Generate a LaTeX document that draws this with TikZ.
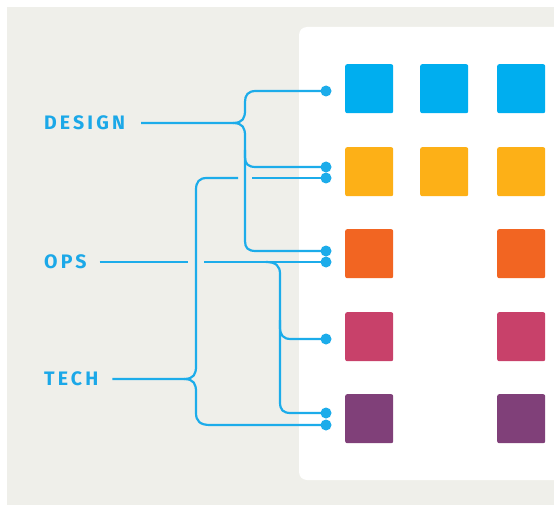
\documentclass[tikz,border=0pt]{standalone}
\usepackage{fontspec}
\setmainfont{Fira Sans}
\newfontfamily\labelfont{Fira Sans}[LetterSpace=16]
\definecolor{bggray}{HTML}{EFEFEA}
\definecolor{wire}{HTML}{1CACEA}
\definecolor{txtblue}{HTML}{1BA8E8}
\definecolor{sqblue}{HTML}{00AEEF}
\definecolor{sqorange}{HTML}{FDB017}
\definecolor{sqred}{HTML}{F26522}
\definecolor{sqpink}{HTML}{C8416A}
\definecolor{sqpurple}{HTML}{804079}
\tikzset{
  tile/.style={fill=#1, rounded corners=2bp, minimum width=48bp, minimum height=49bp,
               inner sep=0pt, anchor=north west},
  pin/.style={circle, fill=wire, minimum size=11bp, inner sep=0pt},
  conn/.style={draw=wire, line width=2.2bp},
  team/.style={anchor=west, inner sep=0pt, text=txtblue,
               font=\labelfont\bfseries\fontsize{19.5bp}{22bp}\selectfont}
}
\begin{document}
\begin{tikzpicture}[x=1bp,y=-1bp]
\useasboundingbox (0,0) rectangle (554,505);
\clip (0,0) rectangle (554,505);
% backdrop and card
\fill[bggray] (7,7) rectangle (560,510);
\fill[white, rounded corners=8bp] (299,27) rectangle (580,480);

% tiles
\node[tile=sqblue]   (b1) at (345,64) {};
\node[tile=sqblue]   (b2) at (420,64) {};
\node[tile=sqblue]   (b3) at (497,64) {};
\node[tile=sqorange] (o1) at (345,147) {};
\node[tile=sqorange] (o2) at (420,147) {};
\node[tile=sqorange] (o3) at (497,147) {};
\node[tile=sqred]    (r1) at (345,229) {};
\node[tile=sqred]    (r3) at (497,229) {};
\node[tile=sqpink]   (p1) at (345,312) {};
\node[tile=sqpink]   (p3) at (497,312) {};
\node[tile=sqpurple] (v1) at (345,394) {};
\node[tile=sqpurple] (v3) at (497,394) {};

% team labels
\node[team] (design) at (44,123) {DESIGN};
\node[team] (ops)    at (44,262) {OPS};
\node[team] (tech)   at (44,379) {TECH};

% junction points
\coordinate (dj) at (233,123);
\coordinate (tj) at (184,379);
\coordinate (oj) at (266,262);

% DESIGN wires
\draw[conn] ([xshift=16bp]design.east) -- (dj)
  .. controls (243,123) and (245,118) .. (245,110) -- (245,102)
  .. controls (245,95) and (248,91) .. (256,91) -- (326,91);
\draw[conn] (dj) .. controls (243,123) and (245,128) .. (245,136) -- (245,157)
  .. controls (245,164) and (248,167) .. (256,167) -- (326,167);
\draw[conn] (245,150) -- (245,241)
  .. controls (245,248) and (248,251) .. (256,251) -- (326,251);

% TECH wires
\draw[conn] ([xshift=14bp]tech.east) -- (tj)
  .. controls (194,379) and (196,374) .. (196,366) -- (196,190)
  .. controls (196,182) and (199,178) .. (207,178) -- (238,178);
\draw[conn] (252,178) -- (326,178);
\draw[conn] (tj) .. controls (194,379) and (196,384) .. (196,392) -- (196,413)
  .. controls (196,421) and (200,425) .. (210,425) -- (326,425);

% OPS wires
\draw[conn] ([xshift=13bp]ops.east) -- (188,262);
\draw[conn] (204,262) -- (326,262);
\draw[conn] (oj) .. controls (276,262) and (280,266) .. (280,274) -- (280,327)
  .. controls (280,335) and (283,339) .. (291,339) -- (326,339);
\draw[conn] (280,320) -- (280,402)
  .. controls (280,410) and (283,413) .. (291,413) -- (326,413);

% pins
\node[pin] (k1) at (326,91) {};
\node[pin] (k2) at (326,167) {};
\node[pin] (k3) at (326,178) {};
\node[pin] (k4) at (326,251) {};
\node[pin] (k5) at (326,262) {};
\node[pin] (k6) at (326,339) {};
\node[pin] (k7) at (326,413) {};
\node[pin] (k8) at (326,425) {};
\end{tikzpicture}
\end{document}
